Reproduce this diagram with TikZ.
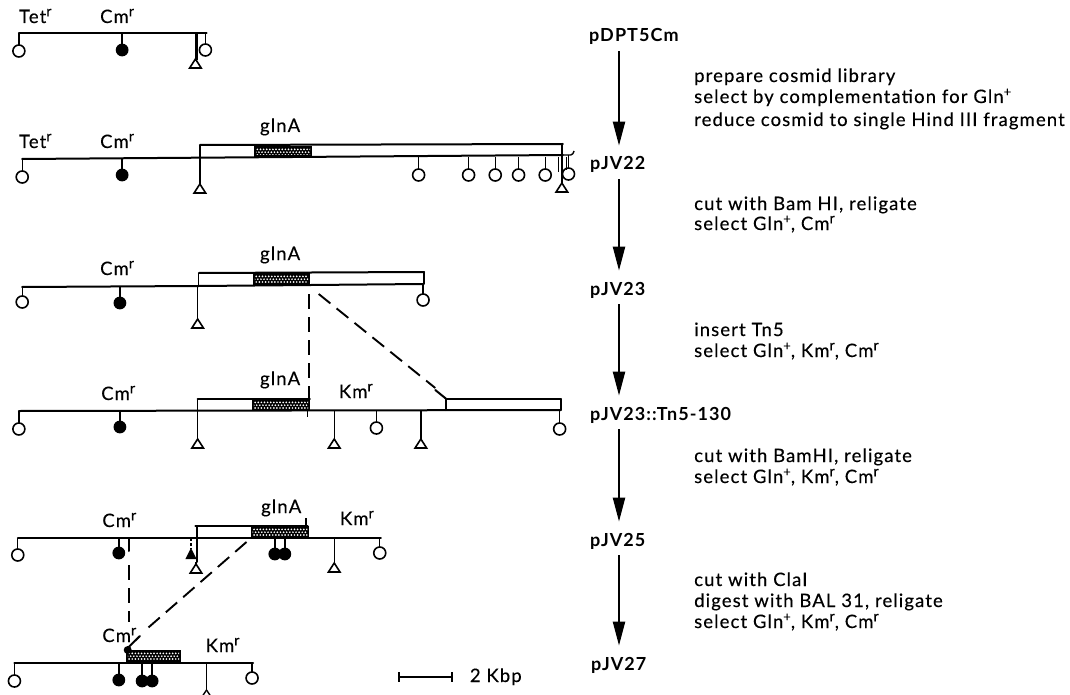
\documentclass[tikz,border=0pt]{standalone}
\usepackage{fontspec}
\setmainfont{Lato}[LetterSpace=6]
\newfontfamily\labelfont{Lato}[LetterSpace=6,FakeBold=0.3]
\usetikzlibrary{arrows.meta}
\tikzset{
  rail/.style={line width=2pt,line cap=round},
  stem/.style={line width=1.4pt},
  ring/.style={line width=1.6pt,fill=white},
  gene/.style={fill=black},
  cutline/.style={line width=1.9pt,dash pattern=on 15pt off 8pt},
  txt/.style={anchor=base west,inner sep=0pt,font=\fontsize{18.5}{20}\selectfont\labelfont},
  plasmid/.style={anchor=base west,inner sep=0pt,font=\fontsize{18}{20}\selectfont\bfseries},
  flow/.style={line width=2.2pt,-{Triangle[length=24pt,width=12pt]}},
}
\newcommand{\siteO}[3]{\draw[stem] (#1,#2) -- (#1,#3-6); \draw[ring] (#1,#3) circle (6pt);}
\newcommand{\siteF}[3]{\draw[stem] (#1,#2) -- (#1,#3-5); \fill (#1,#3) circle (6.4pt);}
\newcommand{\siteT}[3]{\draw[stem] (#1,#2) -- (#1,#3-9); \draw[line width=1.6pt,fill=white,line join=miter] (#1,#3-9) -- (#1+5.2,#3) -- (#1-5.2,#3) -- cycle;}
\newcommand{\geneBox}[4]{\fill[gene] (#1,#3) rectangle (#2,#4);
  \begin{scope}
  \clip (#1+1.6,#3+2) rectangle (#2-1.6,#4-2);
  \foreach \dotx in {0,2.8,...,60} {
    \fill[white] (#1+\dotx,#3+3.4) circle (0.95pt);
    \fill[white] (#1+\dotx+1.4,#3+6.2) circle (0.95pt);
    \fill[white] (#1+\dotx,#3+9) circle (0.95pt);
  }
  \end{scope}}
\newcommand{\R}{\raisebox{0.36em}{\fontsize{14.5}{14.5}\selectfont r}}
\newcommand{\Pl}{\raisebox{0.36em}{\fontsize{13}{13}\selectfont +}}
\begin{document}
\begin{tikzpicture}[x=1pt,y=-1pt]
\useasboundingbox (0,0) rectangle (1070,695);
\clip (0,0) rectangle (1070,695);
\begin{scope}[x=1.1104pt]
% map 1
\draw[rail] (17,33) -- (186,33);
\siteO{17}{33}{51} \siteF{110}{33}{50} \siteT{176}{33}{68} \siteO{185}{33}{50}
\draw[stem] (177.5,33) -- (177.5,60);
\node[txt] (t1) at (17,23) {Tet\R};
\node[txt] (c1) at (90,23) {Cm\R};
% map 2
\draw[rail] (20,159) -- (507,155);
\draw[rail] (180,145) -- (507,144);
\draw[stem] (506,144) -- (506,178);
\draw[stem] (180,145) -- (180,158);
\geneBox{229}{281}{146}{157}
\siteO{20}{159}{177} \siteF{110}{159}{175} \siteT{180}{158}{193}
\foreach \xx in {377,422,446,467,491} {\siteO{\xx}{157}{175}}
\siteO{512}{155}{174}
\siteT{506}{178}{192}
\draw[stem] (503,157) -- (503,172);
\draw[stem] (510,157) -- (510,170);
\draw[stem] (507,155) -- (514,155) .. controls (516,155) and (516,153) .. (517,151);
\node[txt] (t2) at (17,148) {Tet\R};
\node[txt] (c2) at (90,148) {Cm\R};
\node[txt] (g2) at (234,132) {glnA};
% map 3
\draw[rail] (20,287) -- (179,286) -- (381,284);
\draw[rail] (179,273) -- (382,272);
\draw[stem] (179,273) -- (179,286);
\draw[rail] (382,272) -- (382,284);
\geneBox{228}{279}{273}{286}
\siteO{20}{287}{302} \siteF{108}{287}{303} \siteT{178}{286}{328} \siteO{381}{284}{300}
\node[txt] (c3) at (90,275) {Cm\R};
\node[txt] (g3) at (234,260) {glnA};
% dashes between map 3 and map 4
\draw[cutline] (278,294) -- (278,400);
\draw[cutline] (287,294) -- (392,388);
\draw[rail] (392,390) -- (402,399);
% map 4
\draw[rail] (17,411) -- (505,410);
\draw[rail] (178,399) -- (279,399);
\draw[stem] (178,399) -- (178,411);
\geneBox{227}{279}{399}{411}
\draw[rail] (402,399) -- (505,399);
\draw[rail] (402,399) -- (402,410);
\draw[rail] (505,399) -- (505,410);
\draw[stem] (277,411) -- (277,417);
\siteO{17}{411}{429} \siteF{108}{411}{427} \siteT{178}{411}{448}
\siteT{301}{411}{448} \siteO{339}{411}{428} \siteT{379}{411}{448} \siteO{504}{410}{429}
\node[txt] (c4) at (91,400) {Cm\R};
\node[txt] (g4) at (234,385) {glnA};
\node[txt] (k4) at (305,398) {Km\R};
% map 5
\draw[rail] (16,538) -- (343,538);
\draw[rail] (176,526) -- (277,526);
\draw[rail] (177.5,526) -- (177.5,538);
\geneBox{226}{278.5}{526}{538}
\draw[stem] (275.5,526) -- (275.5,518);
\siteO{16}{538}{555} \siteF{107}{538}{553}
\draw[rail] (116,538) -- (116,551);
\draw[rail] (177.5,538) -- (177.5,562);
\fill (172,548) -- (177,559) -- (167,559) -- cycle;
\draw[line width=1.4pt,dash pattern=on 3pt off 2pt] (172,538) -- (172,549);
\siteT{176.5}{562}{573}
\siteF{247.5}{538}{554} \siteF{256.5}{538}{554}
\siteT{301}{538}{572} \siteO{342}{537}{553}
\node[txt] (c5) at (92,527) {Cm\R};
\node[txt] (g5) at (235,513) {glnA};
\node[txt] (k5) at (306,525) {Km\R};
% dashes between map 5 and map 6
\draw[cutline] (116,565) -- (116,622);
\draw[cutline] (222,542) -- (129,632);
\draw[rail] (126,636) -- (115,648);
% map 6
\draw[rail] (13,663) -- (228,663);
\geneBox{113.5}{163}{650}{663}
\fill (115,650) circle (4pt);
\siteO{13}{663}{681} \siteF{107}{663}{680}
\siteF{128}{663}{681} \siteF{137}{663}{681}
\draw[stem] (186,663) -- (186,690);
\draw[stem] (186,690) -- (180,700);
\draw[stem] (186,690) -- (192,700);
\siteO{227}{663}{678}
\node[txt] (c6) at (92,642) {Cm\R};
\node[txt] (k6) at (185,652) {Km\R};
% scale
\draw[line width=2.6pt] (359.5,677) -- (407,677);
\draw[line width=2pt] (359.5,672) -- (359.5,682);
\draw[line width=2pt] (407,672) -- (407,682);
\node[txt] (kb) at (423,682) {2 Kbp};
\end{scope}
% plasmid names
\coordinate (ax) at (619,0);
\node[plasmid] (p1) at (589,42) {pDPT5Cm};
\node[plasmid] (p2) at (590,170) {pJV22};
\node[plasmid] (p3) at (590,295) {pJV23};
\node[plasmid] (p4) at (590,420) {pJV23::Tn5-130};
\node[plasmid] (p5) at (590,546) {pJV25};
\node[plasmid] (p6) at (591,670) {pJV27};
\draw[flow,shorten <=6pt,shorten >=11pt] (p1.south -| ax) -- (p2.north -| ax);
\draw[flow,shorten <=6pt,shorten >=11pt] (p2.south -| ax) -- (p3.north -| ax);
\draw[flow,shorten <=6pt,shorten >=11pt] (p3.south -| ax) -- (p4.north -| ax);
\draw[flow,shorten <=6pt,shorten >=11pt] (p4.south -| ax) -- (p5.north -| ax);
\draw[flow,shorten <=6pt,shorten >=11pt] (p5.south -| ax) -- (p6.north -| ax);
% steps
\node[txt] (s1) at (694,82) {prepare cosmid library};
\node[txt] (s2) at (694,103) {select by complementation for Gln\Pl};
\node[txt] (s3) at (694,126) {reduce cosmid to single Hind III fragment};
\node[txt] (s4) at (694,210) {cut with Bam HI, religate};
\node[txt] (s5) at (694,230) {select Gln\Pl, Cm\R};
\node[txt] (s6) at (694,336) {insert Tn5};
\node[txt] (s7) at (694,357) {select Gln\Pl, Km\R, Cm\R};
\node[txt] (s8) at (694,462) {cut with BamHI, religate};
\node[txt] (s9) at (694,483) {select Gln\Pl, Km\R, Cm\R};
\node[txt] (s10) at (694,586) {cut with ClaI};
\node[txt] (s11) at (694,607) {digest with BAL 31, religate};
\node[txt] (s12) at (694,628) {select Gln\Pl, Km\R, Cm\R};
\end{tikzpicture}
\end{document}
